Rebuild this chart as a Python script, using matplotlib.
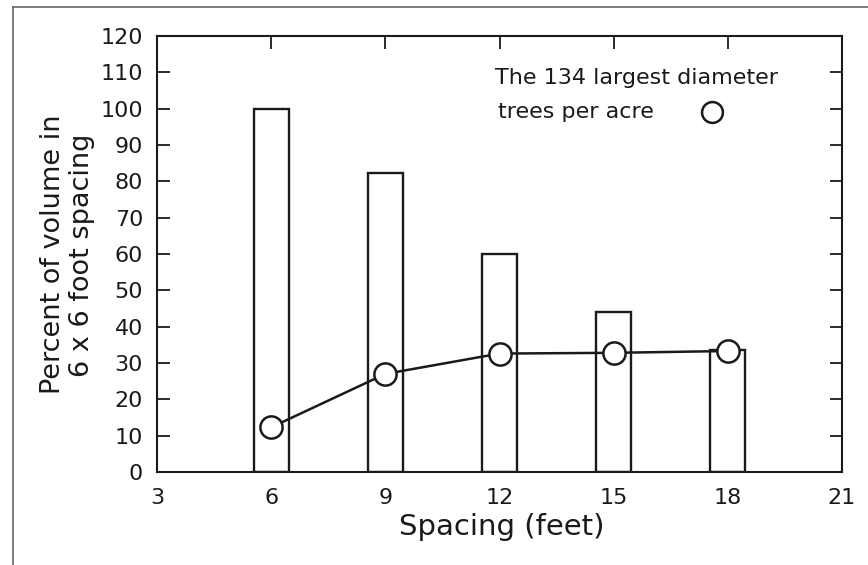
import matplotlib
matplotlib.use('Agg')
import matplotlib.pyplot as plt
from matplotlib.lines import Line2D

# Data
spacing = [6, 9, 12, 15, 18]
volume_pct = [100, 82.3, 60, 44, 33.5]        # bars, percent of 6x6 volume
largest_134 = [12.3, 27, 32.6, 32.8, 33.3]    # circles, 134 largest trees/acre
xticks = [3, 6, 9, 12, 15, 18, 21]
yticks = list(range(0, 121, 10))

plt.rcParams['font.family'] = ['DejaVu Sans']

W, H = 868, 565
def fx(px):
    return px / W
def fy(py):
    return 1 - py / H

fig = plt.figure(figsize=(8.68, 5.65), dpi=100)
ax = fig.add_axes([fx(157), fy(472), (842 - 157) / W, (472 - 36) / H])

ink = '#1a1a1a'
# bars
ax.bar(spacing, volume_pct, width=0.92, facecolor='white', edgecolor=ink,
       linewidth=1.7, zorder=2)
# line with open circles
ax.plot(spacing, largest_134, color=ink, linewidth=1.8, marker='o',
        markersize=16, markerfacecolor='white', markeredgecolor=ink,
        markeredgewidth=1.8, zorder=3)

ax.set_xlim(3, 21)
ax.set_ylim(0, 120)
ax.set_xticks(xticks)
ax.set_yticks(yticks)
ax.tick_params(direction='in', length=9, width=1.3, top=True, right=True,
               labelsize=16, colors=ink)
ax.tick_params(axis='x', pad=11.5)
ax.tick_params(axis='y', pad=10)
for s in ax.spines.values():
    s.set_linewidth(1.5)
    s.set_color(ink)

# axis titles
fig.text(fx(502), fy(535), 'Spacing (feet)', fontsize=21, ha='center',
         va='baseline', color=ink)
fig.text(fx(60), fy(254), 'Percent of volume in', fontsize=19.5, rotation=90,
         rotation_mode='anchor', ha='center', va='baseline', color=ink)
fig.text(fx(89), fy(255), '6 x 6 foot spacing', fontsize=19.5, rotation=90,
         rotation_mode='anchor', ha='center', va='baseline', color=ink)

# legend: two text lines, circle after the second
fig.text(fx(495), fy(84), 'The 134 largest diameter', fontsize=16,
         ha='left', va='baseline', color=ink)
fig.text(fx(498), fy(118), 'trees per acre', fontsize=16,
         ha='left', va='baseline', color=ink)
fig.add_artist(Line2D([fx(712)], [fy(112)], marker='o', markersize=15,
                      markerfacecolor='white', markeredgecolor=ink,
                      markeredgewidth=1.8, linestyle='none'))

# page frame lines (top and left)
fig.add_artist(Line2D([fx(12.5), 1], [fy(7), fy(7)], color='#666666', linewidth=1.2))
fig.add_artist(Line2D([fx(12.5), fx(12.5)], [0, fy(7)], color='#666666', linewidth=1.2))

fig.savefig('out.png', dpi=100)
